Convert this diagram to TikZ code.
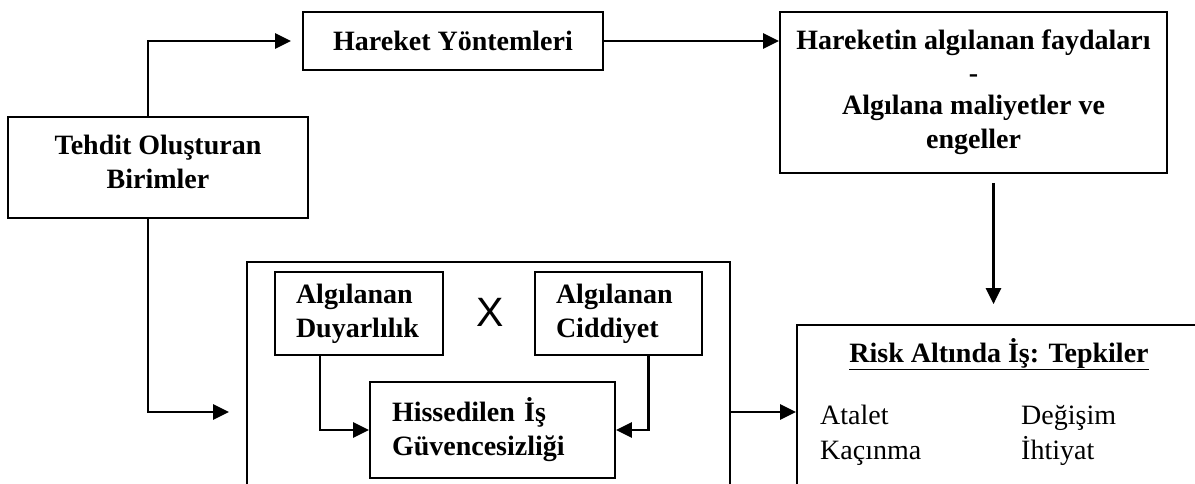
\documentclass[tikz,border=0pt]{standalone}
\usepackage{fontspec}
\setmainfont{Liberation Serif}
\newfontfamily\xfont{Liberation Sans}
\usepackage{tikz}
\usetikzlibrary{arrows.meta}

\begin{document}
\begin{tikzpicture}[x=1pt,y=-1pt,
		box/.style={draw=black, line width=1.7pt, inner sep=0pt,
			font=\bfseries\fontsize{28}{34}\selectfont},
		leftbox/.style={box, align=left, inner xsep=21pt, inner ysep=0pt},
		word/.style={inner sep=0pt, anchor=base west,
			font=\fontsize{28}{34}\selectfont},
		flow/.style={line width=2.8pt, -{Triangle[length=16pt,width=15pt]}}]
			%\draw[help lines] (0,0) grid (1195,484);
			\useasboundingbox (0,0) rectangle (1195,484);
			
			\node[box, align=center, minimum width=300, minimum height=101] (tehdit) at (158,167.5) {Tehdit Oluşturan\\Birimler\\[-22pt]};
			\node[box, align=center, minimum width=300, minimum height=58] (yontem) at (453,41) {Hareket Yöntemleri};
			\node[box, align=center, minimum width=387, minimum height=161] (fayda) at (973.5,92.5)
				{Hareketin algılanan faydaları\\[-1pt]-\\[-2pt]Algılana maliyetler ve\\engeller};
			
			% inner group
			\node[box, minimum width=483, minimum height=300] (group-inner) at (488.5,412) {};
			\node[leftbox, text width=126, minimum height=83] (duyar) at (359,313.5) {Algılanan\\Duyarlılık};
			\node[leftbox, text width=125, minimum height=83] (cidd) at (618.5,313.5) {Algılanan\\Ciddiyet};
			\node[inner sep=0pt, font=\xfont\fontsize{41}{41}\selectfont] (carpi) at (490,312) {X};
			\node[leftbox, inner xsep=22pt, text width=201, minimum height=96] (hisse) at (492.5,430) {Hissedilen İş\\Güvencesizliği};
			
			% responses
			\node[box, minimum width=443, minimum height=174] (group-risk) at (1018.5,412) {};
			\node[inner sep=0pt, anchor=base, font=\bfseries\fontsize{28}{34}\selectfont] (tepki) at (999,362) {\underline{Risk Altında İş: Tepkiler}};
			\node[word] (atalet) at (820,424) {Atalet};
			\node[word] (kacinma) at (820,459) {Kaçınma};
			\node[word] (degisim) at (1021,424) {Değişim};
			\node[word] (ihtiyat) at (1021,459) {İhtiyat};
			
			\path[flow]
			([xshift=-10pt]tehdit.north) edge[to path={|- (\tikztotarget)}, shorten >=11pt] (yontem.west)
			(yontem.east) edge (yontem.east -| fayda.west)
			([xshift=20pt]fayda.south) edge[shorten <=9pt, shorten >=20pt] ([xshift=20pt]fayda.south |- group-risk.north)
			([xshift=-10pt]tehdit.south) edge[to path={|- (\tikztotarget)}, shorten >=17pt] (group-inner.west)
			([xshift=-39pt]duyar.south) edge[to path={|- (\tikztotarget)}] (hisse.west)
			([xshift=30pt]cidd.south) edge[to path={|- (\tikztotarget)}] (hisse.east)
			(group-inner.east) edge (group-risk.west);
			
\end{tikzpicture}
\end{document}
